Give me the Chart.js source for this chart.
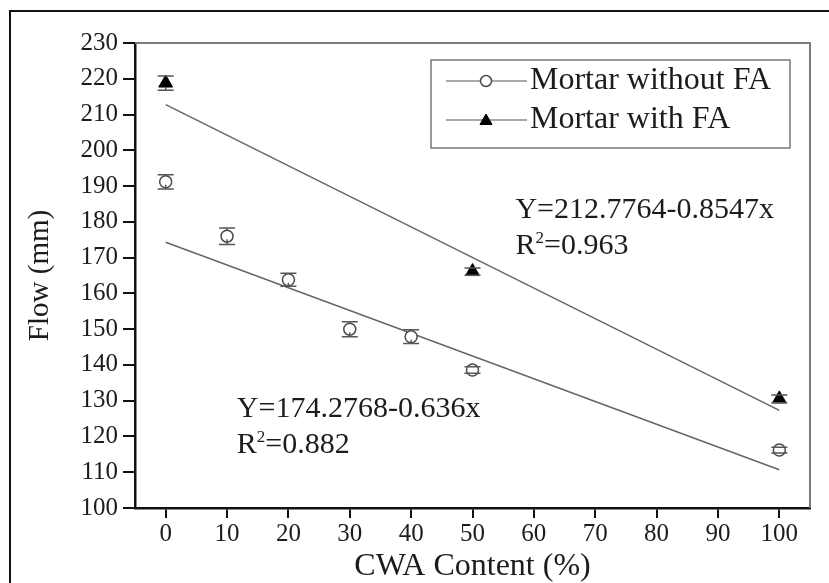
<!DOCTYPE html>
<html>
<head>
<meta charset="utf-8">
<title>Flow vs CWA content</title>
<script src="https://cdn.jsdelivr.net/npm/chart.js@4.4.1/dist/chart.umd.min.js"></script>
<style>
  html, body { margin: 0; padding: 0; background: #fff; }
  #wrap { position: relative; width: 829px; height: 583px; overflow: hidden; }
  #frame { position: absolute; left: 9px; top: 10px; width: 900px; height: 700px; border: 2px solid #111; box-sizing: border-box; }
  #flowChart { position: absolute; left: 0; top: 0; }
</style>
</head>
<body>
<div id="wrap">
  <div id="frame"></div>
  <canvas id="flowChart" width="829" height="583"></canvas>
</div>
<script>
// Measured flow values (mm) with their error bars
const cwaContent    = [0, 10, 20, 30, 40, 50, 100];
const flowWithoutFA = [191.2, 176.0, 163.8, 150.0, 147.9, 138.6, 116.2];
const errWithoutFA  = [2.0, 2.3, 1.8, 2.1, 1.9, 0.9, 0.8];

const cwaContentFA  = [0, 50, 100];
const flowWithFA    = [218.8, 166.1, 130.5];
const errWithFA     = [2.0, 1.0, 1.1];

// Linear fits, endpoints at 0 and 100 % CWA
const fitX          = [0, 100];
const fitWithoutFA  = [174.2768, 110.6768];
const fitWithFA     = [212.7764, 127.3064];

const xTicks = [0, 10, 20, 30, 40, 50, 60, 70, 80, 90, 100];

const seriesNames = ['Mortar without FA', 'Mortar with FA'];
const fitEquations = ['Y=212.7764-0.8547x', 'Y=174.2768-0.636x'];
const fitR2        = ['0.963', '0.882'];

const SERIF = "'Liberation Serif', 'Times New Roman', serif";
const INK = '#1c1c1c';

function toPoints(xs, ys) {
	return xs.map((x, i) => ({ x: x, y: ys[i] }));
}

// Whiskers: stems stop at the marker edge, caps always on top
const errorBars = {
	id: 'errorBars',
	afterDatasetsDraw(chart) {
		let ctx = chart.ctx;
		let yScale = chart.scales.y;
		chart.data.datasets.forEach((ds, i) => {
			if (!ds.errors) return;
			let meta = chart.getDatasetMeta(i);
			ctx.save();
			ctx.strokeStyle = '#555';
			ctx.lineWidth = 1.5;
			meta.data.forEach((pt, j) => {
				let v = ds.data[j].y;
				let top = yScale.getPixelForValue(v + ds.errors[j]);
				let bot = yScale.getPixelForValue(v - ds.errors[j]);
				let r = ds.pointRadius;
				ctx.beginPath();
				if (top < pt.y - r) { ctx.moveTo(pt.x, top); ctx.lineTo(pt.x, pt.y - r); }
				if (bot > pt.y + r / 2) { ctx.moveTo(pt.x, pt.y + r / 2); ctx.lineTo(pt.x, bot); }
				ctx.moveTo(pt.x - 8, top); ctx.lineTo(pt.x + 8, top);
				ctx.moveTo(pt.x - 8, bot); ctx.lineTo(pt.x + 8, bot);
				ctx.stroke();
			});
			ctx.restore();
		});
	}
};

// Top and right edges of the plot frame
const plotFrame = {
	id: 'plotFrame',
	beforeDatasetsDraw(chart) {
		let { ctx, chartArea: a } = chart;
		ctx.save();
		ctx.strokeStyle = '#7a7a7a';
		ctx.lineWidth = 2;
		ctx.beginPath();
		ctx.moveTo(a.left, a.top);
		ctx.lineTo(a.right, a.top);
		ctx.lineTo(a.right, a.bottom);
		ctx.stroke();
		ctx.restore();
	}
};

// Boxed legend with the marker sitting on a short line
const boxLegend = {
	id: 'boxLegend',
	afterDraw(chart) {
		let { ctx, chartArea: a } = chart;
		let left = a.left + 296, top = a.top + 17, right = a.right - 20, bottom = a.top + 105;
		ctx.save();
		ctx.strokeStyle = '#777';
		ctx.lineWidth = 1.5;
		ctx.strokeRect(left, top, right - left, bottom - top);
		seriesNames.forEach((name, i) => {
			let ds = chart.data.datasets[i];
			let y = top + 21 + i * 39;
			ctx.strokeStyle = '#555';
			ctx.lineWidth = 1.2;
			ctx.beginPath();
			ctx.moveTo(left + 15, y);
			ctx.lineTo(left + 96, y);
			ctx.stroke();
			ctx.fillStyle = ds.pointBackgroundColor;
			ctx.strokeStyle = ds.pointBorderColor;
			ctx.lineWidth = ds.pointBorderWidth;
			Chart.helpers.drawPoint(ctx, {
				pointStyle: ds.pointStyle,
				radius: ds.pointStyle === 'triangle' ? 7 : 5.5,
				rotation: 0,
				borderWidth: ds.pointBorderWidth
			}, left + 55, y + (ds.pointStyle === 'triangle' ? 1 : 0));
			ctx.fillStyle = INK;
			ctx.font = '32px ' + SERIF;
			ctx.textBaseline = 'middle';
			ctx.fillText(name, left + 99, y);
		});
		ctx.restore();
	}
};

// Fit equations, anchored in data units
const fitText = {
	id: 'fitText',
	afterDraw(chart, args, opts) {
		let ctx = chart.ctx;
		let xs = chart.scales.x, ys = chart.scales.y;
		ctx.save();
		ctx.fillStyle = INK;
		ctx.textBaseline = 'alphabetic';
		opts.anchors.forEach((pos, i) => {
			let x = xs.getPixelForValue(pos[0]);
			let y = ys.getPixelForValue(pos[1]);
			ctx.font = '30px ' + SERIF;
			ctx.fillText(fitEquations[i], x, y);
			let y2 = y + opts.lineGap;
			ctx.fillText('R', x, y2);
			let w = ctx.measureText('R').width;
			ctx.font = '17px ' + SERIF;
			ctx.fillText('2', x + w, y2 - 11);
			let w2 = ctx.measureText('2').width;
			ctx.font = '30px ' + SERIF;
			ctx.fillText('=' + fitR2[i], x + w + w2, y2);
		});
		ctx.restore();
	}
};

new Chart(document.getElementById('flowChart'), {
	type: 'scatter',
	data: {
		datasets: [
			{
				label: seriesNames[0],
				data: toPoints(cwaContent, flowWithoutFA),
				errors: errWithoutFA,
				pointStyle: 'circle',
				pointRadius: 6,
				pointBackgroundColor: '#fff',
				pointBorderColor: '#4a4a4a',
				pointBorderWidth: 1.5,
				showLine: false,
			},
			{
				label: seriesNames[1],
				data: toPoints(cwaContentFA, flowWithFA),
				errors: errWithFA,
				pointStyle: 'triangle',
				pointRadius: 8,
				pointBackgroundColor: '#000',
				pointBorderColor: '#000',
				pointBorderWidth: 1,
				showLine: false,
			},
			{
				label: 'fit without FA',
				data: toPoints(fitX, fitWithoutFA),
				showLine: true,
				pointRadius: 0,
				borderColor: '#666',
				borderWidth: 1.5,
			},
			{
				label: 'fit with FA',
				data: toPoints(fitX, fitWithFA),
				showLine: true,
				pointRadius: 0,
				borderColor: '#666',
				borderWidth: 1.5,
			},
		],
	},
	options: {
		responsive: false,
		animation: false,
		events: [],
		layout: { padding: { left: 0, top: 43, right: 19, bottom: 0 } },
		plugins: {
			legend: { display: false },
			tooltip: { enabled: false },
			fitText: { anchors: [[57, 181.1], [11.6, 125.4]], lineGap: 36 },
		},
		scales: {
			x: {
				type: 'linear',
				min: -5,
				max: 105,
				afterBuildTicks: scale => { scale.ticks = xTicks.map(v => ({ value: v })); },
				afterFit: scale => { scale.height = 75; },
				border: { display: true, color: '#111', width: 2.5 },
				grid: { drawOnChartArea: false, drawTicks: true, tickLength: 10, color: '#111', lineWidth: 2 },
				ticks: { color: INK, font: { family: SERIF, size: 25 }, padding: 1, maxRotation: 0 },
				title: {
					display: true,
					text: 'CWA Content (%)',
					color: INK,
					font: { family: SERIF, size: 32, lineHeight: 1 },
					padding: { top: 0, bottom: 0 },
				},
			},
			y: {
				min: 100,
				max: 230,
				ticks: { stepSize: 10, color: INK, font: { family: SERIF, size: 25 }, padding: 5 },
				afterFit: scale => { scale.width = 135; },
				border: { display: true, color: '#111', width: 2.5 },
				grid: { drawOnChartArea: false, drawTicks: true, tickLength: 12, color: '#111', lineWidth: 2 },
				title: {
					display: true,
					text: 'Flow (mm)',
					color: INK,
					font: { family: SERIF, size: 29, lineHeight: 1 },
					padding: { top: 26, bottom: 0 },
				},
			},
		},
	},
	plugins: [plotFrame, errorBars, boxLegend, fitText],
});
</script>
</body>
</html>
